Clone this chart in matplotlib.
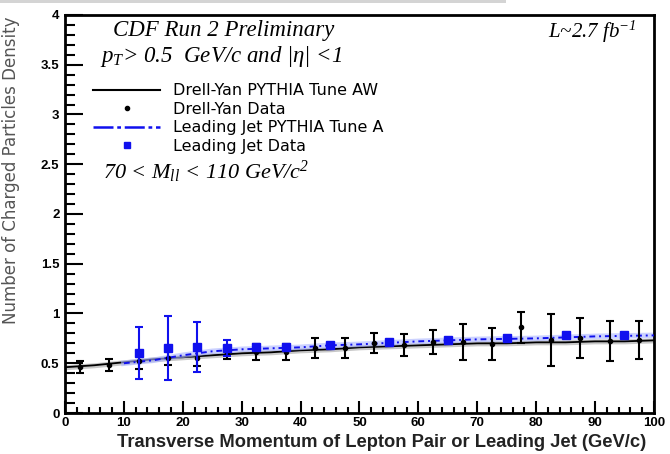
import numpy as np
import matplotlib.pyplot as plt
from matplotlib.ticker import MultipleLocator
from matplotlib.lines import Line2D
from matplotlib.patches import Rectangle

# Drell-Yan data (5 GeV/c bins)
dy_x   = [2.5, 7.5, 12.5, 17.5, 22.5, 27.5, 32.5, 37.5, 42.5, 47.5,
          52.5, 57.5, 62.5, 67.5, 72.5, 77.5, 82.5, 87.5, 92.5, 97.5]
dy_y   = [0.46, 0.48, 0.52, 0.55, 0.55, 0.60, 0.61, 0.61, 0.65, 0.65,
          0.70, 0.68, 0.71, 0.71, 0.69, 0.86, 0.73, 0.75, 0.72, 0.73]
dy_err = [0.06, 0.06, 0.08, 0.07, 0.08, 0.06, 0.08, 0.08, 0.10, 0.10,
          0.10, 0.11, 0.12, 0.18, 0.16, 0.16, 0.26, 0.20, 0.20, 0.19]

# Drell-Yan PYTHIA Tune AW
aw_x = [0, 5, 10, 15, 20, 25, 30, 35, 40, 45, 50, 55, 60, 65, 70, 75, 80, 85, 90, 95, 100]
aw_y = [0.46, 0.48, 0.51, 0.54, 0.56, 0.58, 0.60, 0.61, 0.63, 0.64, 0.66,
        0.67, 0.68, 0.69, 0.70, 0.70, 0.71, 0.71, 0.72, 0.72, 0.73]
aw_band = 0.025

# Leading jet data
lj_x   = [12.5, 17.5, 22.5, 27.5, 32.5, 37.5, 45, 55, 65, 75, 85, 95]
lj_y   = [0.60, 0.65, 0.66, 0.65, 0.66, 0.66, 0.68, 0.715, 0.73, 0.75, 0.78, 0.78]
lj_err = [0.26, 0.32, 0.25, 0.08, 0.03, 0.03, 0.02, 0.02, 0.02, 0.02, 0.02, 0.02]

# Leading jet PYTHIA Tune A
ta_x = [10, 15, 20, 25, 30, 35, 40, 45, 50, 60, 70, 80, 90, 100]
ta_y = [0.50, 0.53, 0.58, 0.62, 0.64, 0.65, 0.66, 0.68, 0.69, 0.72, 0.74, 0.75, 0.77, 0.78]

SANS  = "Liberation Sans"
WIDE  = "DejaVu Sans"
SERIF = "Liberation Serif"
BLUE  = "#1010ee"

plt.rcParams["mathtext.fontset"] = "custom"
plt.rcParams["mathtext.it"] = "Liberation Serif:italic"
plt.rcParams["mathtext.rm"] = "Liberation Serif:italic"

fig = plt.figure(figsize=(6.7, 4.54), dpi=100)
ax = fig.add_axes([0.097, 0.0903, 0.879, 0.8767])

# thin grey strip along the top edge
fig.patches.append(Rectangle((0, 0.994), 0.755, 0.006, transform=fig.transFigure,
                             color="#d4d4d4", lw=0))

ax.fill_between(aw_x, np.array(aw_y) - aw_band, np.array(aw_y) + aw_band,
                color="#c8c8c8", lw=0, zorder=1)
ax.plot(aw_x, aw_y, color="black", lw=1.3, zorder=2)

ax.plot(ta_x, ta_y, color="#aab4ff", lw=4, alpha=0.6, zorder=2)
ax.plot(ta_x, ta_y, color=BLUE, lw=1.4, ls=(0, (3, 2, 1, 2)), zorder=3)

ax.errorbar(dy_x, dy_y, yerr=dy_err, fmt="o", ms=3, color="black",
            ecolor="black", elinewidth=1.5, capsize=3, capthick=1.5, zorder=4)
ax.errorbar(lj_x, lj_y, yerr=lj_err, fmt="s", ms=5.5, color=BLUE,
            ecolor=BLUE, elinewidth=1.5, capsize=3, capthick=1.5, zorder=5)

ax.set_xlim(0, 100)
ax.set_ylim(0, 4)
ax.xaxis.set_major_locator(MultipleLocator(10))
ax.xaxis.set_minor_locator(MultipleLocator(2))
ax.yaxis.set_minor_locator(MultipleLocator(0.1))
ax.set_yticks(np.arange(0, 4.01, 0.5))
ax.set_yticklabels(["0", "0.5", "1", "1.5", "2", "2.5", "3", "3.5", "4"])
ax.tick_params(which="both", direction="in", top=False, right=False,
               width=1.5, color="black")
ax.tick_params(axis="y", which="major", length=13, labelsize=9.5, pad=4)
ax.tick_params(axis="y", which="minor", length=7)
ax.tick_params(axis="x", which="major", length=9, labelsize=9.5, pad=3)
ax.tick_params(axis="x", which="minor", length=4)
for lab in ax.get_xticklabels() + ax.get_yticklabels():
    lab.set_fontfamily(SANS)
    lab.set_fontweight("bold")
for sp in ax.spines.values():
    sp.set_linewidth(2.0)

ax.set_xlabel("Transverse Momentum of Lepton Pair or Leading Jet (GeV/c)",
              family=SANS, fontweight="bold", fontsize=13.2, color="#222222")
ax.xaxis.label.set_va("center")
ax.xaxis.set_label_coords(0.537, -0.075)
ax.set_ylabel("Number of Charged Particles Density", family=WIDE,
              fontsize=12, color="#555555")
ax.yaxis.set_label_coords(-0.076, 0.61)

ax.text(0.081, 0.962, "CDF Run 2 Preliminary", transform=ax.transAxes,
        family=SERIF, style="italic", fontsize=16.5, va="center")
ax.text(0.971, 0.957, "L~2.7 fb$^{-1}$", transform=ax.transAxes,
        family=SERIF, style="italic", fontsize=15, va="center", ha="right")
ax.text(0.059, 0.895, "$p_T$> 0.5  GeV/c and |η| <1",
        transform=ax.transAxes, family=SERIF, style="italic", fontsize=16.5,
        va="center")
ax.text(0.065, 0.606, "70 < $M_{ll}$ < 110 GeV/c$^2$",
        transform=ax.transAxes, family=SERIF, style="italic", fontsize=16,
        va="center")

handles = [
    Line2D([], [], color="black", lw=1.5),
    Line2D([], [], color="black", marker="o", ms=3, ls="none"),
    Line2D([], [], color=BLUE, lw=1.8, ls=(0, (8, 1.5, 1.5, 1.5))),
    Line2D([], [], color=BLUE, marker="s", ms=5, ls="none"),
]
labels = ["Drell-Yan PYTHIA Tune AW", "Drell-Yan Data",
          "Leading Jet PYTHIA Tune A", "Leading Jet Data"]
ax.legend(handles, labels, loc="upper left", bbox_to_anchor=(0.048, 0.828),
          frameon=False, prop={"family": WIDE, "size": 11.5},
          handlelength=4.2, handletextpad=0.8, labelspacing=0.22,
          borderpad=0, borderaxespad=0)

fig.savefig("out.png", dpi=100)
